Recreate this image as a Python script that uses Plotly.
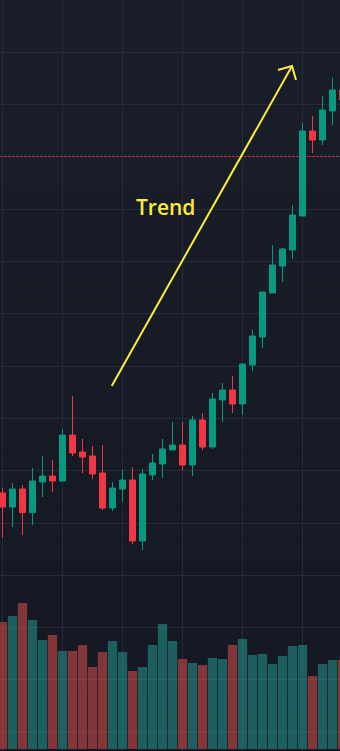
import plotly.graph_objects as go

# ---------------- data ----------------
bar_index = list(range(35))
open_ = [105.74, 103.06, 106.50, 101.97, 107.84, 108.99, 108.03, 116.82, 113.58, 112.81,
         109.56, 102.87, 106.50, 108.22, 96.56, 109.18, 111.28, 113.96, 114.91, 111.09,
         119.69, 114.53, 123.52, 125.43, 122.75, 130.21, 135.56, 143.98, 149.14, 152.20,
         158.70, 174.95, 173.23, 178.78, 182.79]
high = [106.75, 107.65, 107.27, 110.52, 112.81, 112.05, 117.97, 124.28, 116.06, 114.72,
        114.91, 107.84, 110.13, 110.71, 110.33, 113.19, 116.06, 119.31, 119.31, 120.46,
        121.03, 124.86, 126.77, 128.11, 130.40, 136.90, 144.17, 153.15, 152.58, 160.80,
        176.48, 177.82, 181.64, 185.09, 183.94]
low = [97.19, 99.23, 97.71, 99.62, 104.97, 105.93, 108.03, 112.81, 109.56, 108.41,
       102.49, 102.29, 104.02, 95.98, 94.84, 108.22, 108.60, 113.96, 110.13, 108.99,
       113.96, 114.15, 119.31, 121.03, 120.65, 129.06, 133.46, 143.98, 146.08, 150.48,
       158.70, 170.75, 172.28, 176.10, 179.73]
close = [103.06, 106.50, 101.97, 108.03, 108.99, 108.03, 116.82, 113.38, 112.62, 109.37,
         102.87, 106.69, 108.22, 96.56, 109.37, 111.47, 114.15, 114.91, 111.09, 119.69,
         114.53, 123.71, 125.43, 122.75, 130.40, 135.76, 144.17, 149.33, 152.39, 158.89,
         174.95, 173.23, 178.97, 182.79, 180.88]
volume = [127, 133, 146, 129, 109, 114, 98, 98, 104, 82,
          97, 108, 97, 78, 82, 104, 125, 108, 90, 86,
          84, 91, 90, 104, 110, 94, 95, 85, 93, 103,
          104, 73, 85, 89, 89]  # thousands

price_line = 170.08
trend_label = "Trend"
trend_start = (10.92, 126.19)
trend_tip = (28.95, 187.38)
trend_wing_a = (27.55, 186.62)
trend_wing_b = (29.35, 184.70)
trend_label_pos = (16.25, 160.42)

# ---------------- styling ----------------
UP = "#089981"
DOWN = "#f23645"
UP_VOL = "rgba(38,166,154,0.5)"
DOWN_VOL = "rgba(239,83,80,0.5)"
GRID = "#272b37"
YELLOW = "#ffeb3b"
BG_TOP = (26, 30, 41)
BG_BOT = (20, 24, 34)
PRICE_RANGE = [200 - 751 / 5.23, 200]

fig = go.Figure()

# price line (main subplot, drawn under candles)
fig.add_trace(go.Scatter(x=[bar_index[0] - 1, bar_index[-1] + 1], y=[price_line, price_line],
                         mode="lines", yaxis="y",
                         line=dict(color=DOWN, width=1, dash="2px,2px"), hoverinfo="skip"))

vol_colors = [UP_VOL if c >= o else DOWN_VOL for o, c in zip(open_, close)]
fig.add_trace(go.Bar(x=bar_index, y=volume, yaxis="y2", width=0.93,
                     marker=dict(color=vol_colors, line=dict(width=0)),
                     hoverinfo="skip"))

fig.add_trace(go.Candlestick(
    x=bar_index, open=open_, high=high, low=low, close=close, yaxis="y3",
    increasing=dict(line=dict(color=UP, width=1), fillcolor=UP),
    decreasing=dict(line=dict(color=DOWN, width=1), fillcolor=DOWN),
    whiskerwidth=0, hoverinfo="skip"))

fig.add_trace(go.Scatter(
    x=[trend_start[0], trend_tip[0], None, trend_wing_a[0], trend_tip[0], trend_wing_b[0]],
    y=[trend_start[1], trend_tip[1], None, trend_wing_a[1], trend_tip[1], trend_wing_b[1]],
    mode="lines", yaxis="y3", line=dict(color=YELLOW, width=2), hoverinfo="skip"))

# gradient background bands
shapes = []
N = 40
for i in range(N):
    t = (i + 0.5) / N
    c = tuple(round(BG_TOP[j] + (BG_BOT[j] - BG_TOP[j]) * t) for j in range(3))
    shapes.append(dict(type="rect", xref="paper", yref="paper", x0=0, x1=1,
                       y0=1 - (i + 1) / N, y1=1 - i / N + 0.001,
                       fillcolor="rgb(%d,%d,%d)" % c, line=dict(width=0), layer="below"))

fig.update_layout(
    width=340, height=751,
    margin=dict(l=0, r=0, t=0, b=0),
    paper_bgcolor="rgb(%d,%d,%d)" % BG_BOT,
    plot_bgcolor="rgba(0,0,0,0)",
    showlegend=False, hovermode=False,
    boxgap=0.4, boxgroupgap=0,
    shapes=shapes,
    xaxis=dict(range=[-0.25, 33.75], tickvals=[0, 6, 12, 18, 24, 30],
               showticklabels=False, showgrid=True, gridcolor=GRID, gridwidth=1,
               zeroline=False, rangeslider=dict(visible=False), fixedrange=True),
    yaxis=dict(range=PRICE_RANGE, tick0=0, dtick=10,
               showticklabels=False, showgrid=True, gridcolor=GRID, gridwidth=1,
               zeroline=False, fixedrange=True),
    yaxis2=dict(range=[-2, 749], overlaying="y", visible=False, showgrid=False,
                zeroline=False, fixedrange=True),
    yaxis3=dict(range=PRICE_RANGE, overlaying="y", visible=False, showgrid=False,
                zeroline=False, fixedrange=True),
    annotations=[dict(x=trend_label_pos[0], y=trend_label_pos[1], xref="x", yref="y",
                      text=trend_label, showarrow=False,
                      font=dict(family="Open Sans", size=21, weight=600,
                                color=YELLOW))],
)

fig.write_html("out.html")
